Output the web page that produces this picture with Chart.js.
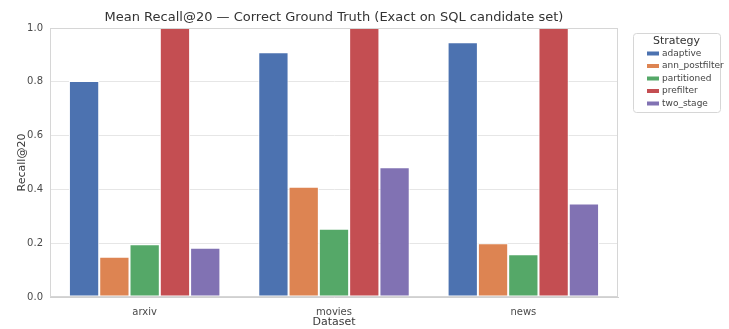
<!DOCTYPE html>
<html>
<head>
<meta charset="utf-8">
<script src="https://cdn.jsdelivr.net/npm/chart.js@4/dist/chart.umd.min.js"></script>
<style>
  html, body { margin: 0; padding: 0; background: #ffffff; }
  #wrap { width: 729px; height: 329px; }
</style>
</head>
<body>
<div id="wrap"><canvas id="c" width="729" height="329"></canvas></div>
<script>
const datasets_ = ["arxiv", "movies", "news"];
const strategies = ["adaptive", "ann_postfilter", "partitioned", "prefilter", "two_stage"];
const adaptive = [0.803, 0.910, 0.947];
const annPostfilter = [0.150, 0.410, 0.200];
const partitioned = [0.196, 0.254, 0.159];
const prefilter = [1.0, 1.0, 1.0];
const twoStage = [0.183, 0.482, 0.348];
const yTicks = [0.0, 0.2, 0.4, 0.6, 0.8, 1.0];

const palette = ["#4C72B0", "#DD8452", "#55A868", "#C44E52", "#8172B3"];
const seriesValues = [adaptive, annPostfilter, partitioned, prefilter, twoStage];

const FONT = "'DejaVu Sans', sans-serif";
const TEXT = "#3a3a3a";

// Frame around the plot, title, and boxed legend
const decor = {
  id: "decor",
  afterDraw(chart) {
    const ctx = chart.ctx;
    const area = chart.chartArea;
    ctx.save();
    ctx.strokeStyle = "#d6d6d6";
    ctx.lineWidth = 1;
    ctx.strokeRect(Math.round(area.left) + 0.5, Math.round(area.top) + 0.5,
                   Math.round(area.right - area.left) - 1, Math.round(area.bottom - area.top) - 1);

    ctx.fillStyle = "#333333";
    ctx.font = "13px " + FONT;
    ctx.textAlign = "center";
    ctx.textBaseline = "middle";
    ctx.fillText("Mean Recall@20 \u2014 Correct Ground Truth (Exact on SQL candidate set)", (area.left + area.right) / 2, 18);

    // legend box
    const bx = 633, by = 33, bw = 87, bh = 79;
    ctx.fillStyle = "#ffffff";
    ctx.strokeStyle = "#d6d6d6";
    ctx.beginPath();
    ctx.roundRect(bx + 0.5, by + 0.5, bw, bh, 3);
    ctx.fill();
    ctx.stroke();
    ctx.fillStyle = "#333333";
    ctx.font = "11px " + FONT;
    ctx.fillText("Strategy", bx + bw / 2, 41);
    ctx.font = "9px " + FONT;
    ctx.textAlign = "left";
    chart.data.datasets.forEach((ds, i) => {
      const y = 53.5 + i * 12.5;
      ctx.fillStyle = ds.backgroundColor;
      ctx.fillRect(647, y - 2, 12, 4);
      ctx.fillStyle = "#444444";
      ctx.fillText(ds.label, 662, y);
    });
    ctx.restore();
  }
};

new Chart(document.getElementById("c"), {
  type: "bar",
  data: {
    labels: datasets_,
    datasets: strategies.map((s, i) => ({
      label: s,
      data: seriesValues[i],
      backgroundColor: palette[i],
      borderColor: "#ffffff",
      borderWidth: 1,
      borderSkipped: false,
      categoryPercentage: 0.8,
      barPercentage: 1.0
    }))
  },
  options: {
    responsive: false,
    animation: false,
    devicePixelRatio: 1,
    layout: { padding: { top: 28, right: 111, bottom: 0, left: 0 } },
    plugins: {
      legend: { display: false },
      title: { display: false },
      tooltip: { enabled: false }
    },
    scales: {
      x: {
        grid: { display: false, drawTicks: false },
        border: { display: true, color: "#d0d0d0", width: 1 },
        ticks: { color: "#4a4a4a", font: { family: FONT, size: 10 }, padding: 9 },
        title: { display: true, text: "Dataset", color: TEXT, font: { family: FONT, size: 11 }, padding: { top: 0, bottom: 0 } },
        afterFit(scale) { scale.height = 32; }
      },
      y: {
        min: 0,
        max: 1,
        afterBuildTicks(scale) { scale.ticks = yTicks.map(v => ({ value: v })); },
        grid: { color: "#e6e6e6", lineWidth: 1, drawTicks: false },
        border: { display: true, color: "#d0d0d0", width: 1 },
        ticks: {
          color: "#4a4a4a",
          font: { family: FONT, size: 10 },
          padding: 7,
          callback: v => v.toFixed(1)
        },
        title: { display: true, text: "Recall@20", color: TEXT, font: { family: FONT, size: 11 }, padding: { top: 16, bottom: 0 } },
        afterFit(scale) { scale.width = 50; }
      }
    }
  },
  plugins: [decor]
});
</script>
</body>
</html>
